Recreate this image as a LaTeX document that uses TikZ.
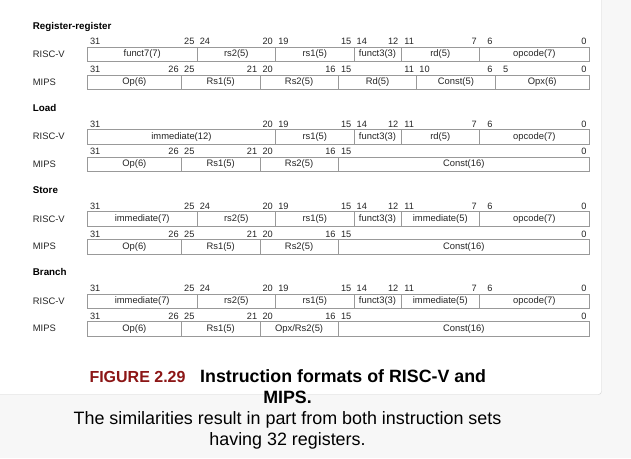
\documentclass[tikz,border=0pt]{standalone}
\usepackage{fontspec}
\setmainfont{Liberation Sans}
\definecolor{figred}{RGB}{140,22,22}
\definecolor{pagegray}{RGB}{247,247,247}
\begin{document}
\begin{tikzpicture}[x=1pt, y=-1pt,
    field/.style={draw=black!40, line width=0.5pt, inner sep=0pt, minimum height=14.4pt,
        text height=6.8pt, text depth=1.9pt, font=\fontsize{9.4}{11}\selectfont, text=black!85},
    bitnum/.style={anchor=base east, inner sep=0pt, font=\fontsize{9.2}{11}\selectfont, text=black!85},
    isa/.style={anchor=base west, inner sep=0pt, font=\fontsize{9.4}{11}\selectfont, text=black!85},
    group/.style={anchor=base west, inner sep=0pt, font=\bfseries\fontsize{9.8}{11}\selectfont},
    caption/.style={inner sep=0pt, font=\bfseries\fontsize{17.8}{21}\selectfont}
]
\useasboundingbox (0,0) rectangle (631,458);
\fill[pagegray] (0,0) rectangle (631,458);
\filldraw[fill=white, draw=black!18, rounded corners=3pt] (-10,-10) rectangle (601.5,394.5);

\def\bw{15.6875}
\def\xo{87.3}

\foreach \ytop/\grp [count=\s] in {47.3/Register-register, 129.5/Load, 211.7/Store, 293.9/Branch} {
    \node[group] (grp-\s) at (32.7,\ytop-18) {\grp};
    \node[isa] (rv-\s) at (32.7,\ytop+10.3) {RISC-V};
    \node[isa] (mips-\s) at (32.7,\ytop+38) {MIPS};
}

\foreach \ytop/\row/\fields in {
    47.3/rr-rv/{31/25/funct7(7), 24/20/rs2(5), 19/15/rs1(5), 14/12/funct3(3), 11/7/rd(5), 6/0/opcode(7)},
    75.0/rr-mips/{31/26/Op(6), 25/21/Rs1(5), 20/16/Rs2(5), 15/11/Rd(5), 10/6/Const(5), 5/0/Opx(6)},
    129.5/ld-rv/{31/20/immediate(12), 19/15/rs1(5), 14/12/funct3(3), 11/7/rd(5), 6/0/opcode(7)},
    157.2/ld-mips/{31/26/Op(6), 25/21/Rs1(5), 20/16/Rs2(5), 15/0/Const(16)},
    211.7/st-rv/{31/25/immediate(7), 24/20/rs2(5), 19/15/rs1(5), 14/12/funct3(3), 11/7/immediate(5), 6/0/opcode(7)},
    239.4/st-mips/{31/26/Op(6), 25/21/Rs1(5), 20/16/Rs2(5), 15/0/Const(16)},
    293.9/br-rv/{31/25/immediate(7), 24/20/rs2(5), 19/15/rs1(5), 14/12/funct3(3), 11/7/immediate(5), 6/0/opcode(7)},
    321.6/br-mips/{31/26/Op(6), 25/21/Rs1(5), 20/16/{Opx/Rs2(5)}, 15/0/Const(16)}} {
    \foreach \hi/\lo/\txt [count=\i] in \fields {
        \node[field, minimum width={(\hi-\lo+1)*\bw}] (\row-\i) at ({\xo+(63-\hi-\lo)*\bw/2},\ytop+7.2) {\txt};
        \node[bitnum] (\row-\i-hi) at ({\xo+(32-\hi)*\bw-2.5},\ytop-2.4) {\hi};
        \node[bitnum] (\row-\i-lo) at ({\xo+(32-\lo)*\bw-2.5},\ytop-2.4) {\lo};
    }
}

\node[caption, anchor=base west, text=figred, font=\bfseries\fontsize{16}{19}\selectfont] (figno) at (89.3,382.3) {FIGURE 2.29};
\node[caption, anchor=base west] (head1) at (200,382.3) {Instruction formats of RISC-V and};
\node[caption, anchor=base] (head2) at (287.5,403.3) {MIPS.};
\node[caption, anchor=base, font=\fontsize{17.9}{21}\selectfont] (desc1) at (287.5,424.3) {The similarities result in part from both instruction sets};
\node[caption, anchor=base, font=\fontsize{17.9}{21}\selectfont] (desc2) at (287.5,445) {having 32 registers.};
\end{tikzpicture}
\end{document}
